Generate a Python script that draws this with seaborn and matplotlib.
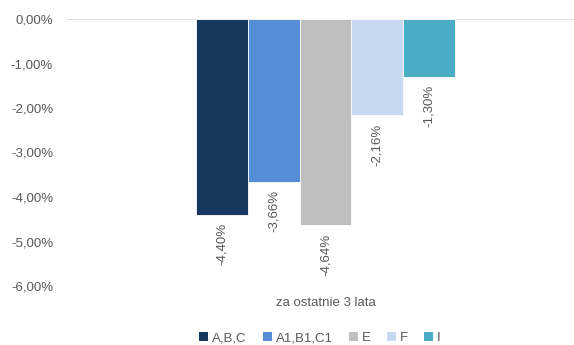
import matplotlib
matplotlib.use("Agg")
import matplotlib.pyplot as plt
import seaborn as sns
import pandas as pd
from matplotlib.patches import Patch
from matplotlib.lines import Line2D

category = ["za ostatnie 3 lata"]
series = ["A,B,C", "A1,B1,C1", "E", "F", "I"]
values = [-4.40, -3.66, -4.64, -2.16, -1.30]
colors = ["#17375E", "#558ED5", "#BFBFBF", "#C6D9F1", "#4BACC6"]
yticks = [0, -1, -2, -3, -4, -5, -6]

df = pd.DataFrame({"cat": category * len(series), "series": series, "value": values})

sns.set_theme(style="white")
plt.rcParams["font.family"] = ["Liberation Sans", "DejaVu Sans"]
txt = "#595959"

fig = plt.figure(figsize=(5.74, 3.45), dpi=100)
ax = fig.add_axes([67 / 574, 1 - 286 / 345, 1 - 67 / 574, (286 - 19) / 345])

sns.barplot(data=df, x="cat", y="value", hue="series", palette=colors,
            hue_order=series, ax=ax, width=0.8, gap=0, legend=False,
            edgecolor="white", linewidth=0.6, saturation=1)

for cont, v in zip(ax.containers, values):
    lab = ("%.2f" % v).replace(".", ",") + "%"
    ax.bar_label(cont, labels=[lab], rotation=90, padding=6, color=txt, fontsize=9.5)

ax.set_ylim(-6, 0)
ax.set_xlim(-(325.5 - 67) / 323.75, (574 - 325.5) / 323.75)
ax.set_yticks(yticks)
ax.set_yticklabels([("%.2f" % t).replace(".", ",").replace("-0,00", "0,00") + "%" for t in yticks],
                   color=txt, fontsize=9.5)
ax.tick_params(axis="y", length=0, pad=10)
ax.tick_params(axis="x", length=0, pad=8, labelsize=9.5, labelcolor=txt)
ax.set_xlabel("")
ax.set_ylabel("")
for s in ax.spines.values():
    s.set_visible(False)
ax.axhline(0, color="#D9D9D9", lw=1.2, zorder=0.5)

handles = [Patch(facecolor=c, edgecolor="none") for c in colors]
fig.legend(handles, series, loc="center", bbox_to_anchor=(320 / 574, 1 - 338 / 345),
           ncol=5, frameon=False, fontsize=9.5, labelcolor=txt,
           handlelength=0.7, handleheight=0.7, handletextpad=0.3, columnspacing=1.2)

fig.savefig("out.png", dpi=100)
